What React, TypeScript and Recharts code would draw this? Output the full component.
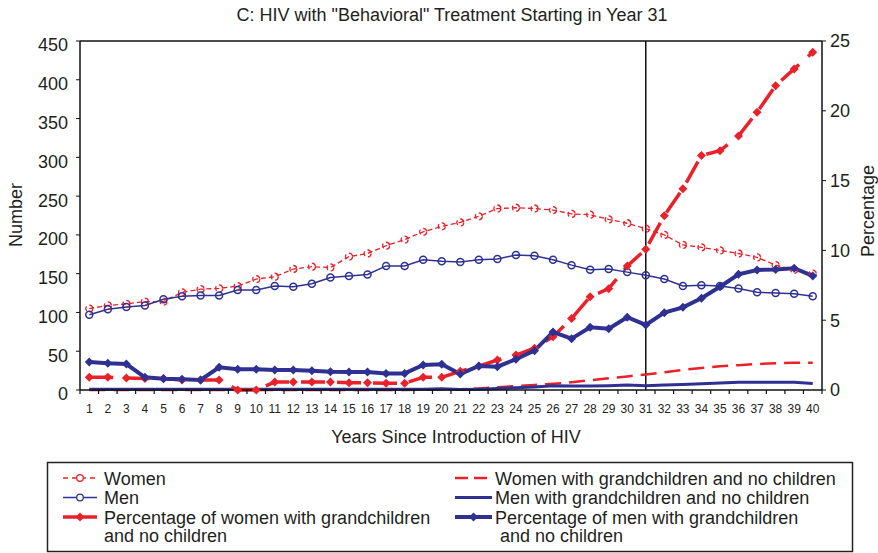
import React from 'react';
import { LineChart, Line, XAxis, YAxis, ReferenceLine } from 'recharts';

const years = [
  1, 2, 3, 4, 5, 6, 7, 8, 9, 10, 11, 12, 13, 14, 15, 16, 17, 18, 19, 20,
  21, 22, 23, 24, 25, 26, 27, 28, 29, 30, 31, 32, 33, 34, 35, 36, 37, 38, 39, 40,
];

// numbers (left axis)
const women = [
  105, 109, 111, 114, 114, 126, 130, 131, 134, 143, 146, 156, 159, 158, 172, 176, 186, 194, 204, 211,
  216, 224, 234, 235, 234, 232, 227, 226, 220, 215, 208, 200, 187, 184, 180, 176, 171, 161, 155, 150,
];
const men = [
  97, 104, 107, 109, 117, 121, 122, 122, 129, 129, 134, 133, 137, 145, 147, 149, 160, 160, 168, 166,
  165, 168, 169, 174, 173, 168, 161, 155, 156, 152, 148, 143, 134, 135, 134, 131, 126, 125, 124, 121,
];
const womenGrand = [
  0, 0, 0, 0, 0, 0, 0, 0, 0, 0, 0, 0, 0, 0, 0, 0, 0, 0, 0.5, 0.5,
  1, 2, 3.5, 5, 6.5, 8, 10, 12.5, 15, 17.5, 20, 23, 26, 28.5, 30.5, 32, 33.5, 34.5, 35, 35,
];
const menGrand = [
  1, 1, 1, 1, 1, 1, 1, 1, 1, 1, 1, 1, 1, 1, 1, 1, 1, 1, 1, 1.5,
  0.5, 1, 2, 3, 4, 5.5, 5, 5, 5.5, 6.5, 5.5, 6.5, 7, 8, 9, 10, 10, 10, 10, 8.5,
];

// percentages (right axis)
const pctWomen = [
  0.91, 0.91, 0.86, 0.82, 0.83, 0.72, 0.72, 0.72, 0, 0, 0.57, 0.57, 0.57, 0.57, 0.52, 0.52, 0.48, 0.48, 0.91, 0.91,
  1.34, 1.7, 2.15, 2.5, 2.99, 3.82, 5.13, 6.68, 7.26, 8.88, 10.08, 12.49, 14.42, 16.8, 17.14, 18.2, 19.9, 21.8, 23.0, 24.2,
];
const pctMen = [
  2.0, 1.91, 1.86, 0.91, 0.81, 0.77, 0.72, 1.63, 1.48, 1.48, 1.43, 1.43, 1.38, 1.31, 1.29, 1.29, 1.19, 1.19, 1.79, 1.84,
  1.15, 1.72, 1.67, 2.2, 2.82, 4.15, 3.68, 4.49, 4.39, 5.21, 4.66, 5.54, 5.92, 6.57, 7.4, 8.29, 8.6, 8.64, 8.72, 8.17,
];

const numberTicks = [0, 50, 100, 150, 200, 250, 300, 350, 400, 450];
const pctTicks = [0, 5, 10, 15, 20, 25];
const treatmentYear = 31;

const RED = '#e8212a';
const BLUE = '#2e3192';
const INK = '#231f20';
const FONT = '"Liberation Sans", Arial, Helvetica, sans-serif';

const W = 878;
const H = 553;
const PLOT_LEFT = 80;
const PLOT_RIGHT = 822;
const PLOT_TOP = 41;
const PLOT_BOTTOM = 390;
const STEP = (PLOT_RIGHT - PLOT_LEFT) / years.length;

const data = years.map((year, i) => ({
  year,
  women: women[i],
  men: men[i],
  womenGrand: womenGrand[i],
  menGrand: menGrand[i],
  pctWomen: pctWomen[i],
  pctMen: pctMen[i],
}));

function diamondPath(cx: number, cy: number, s: number) {
  return `M${cx},${cy - s}L${cx + s},${cy}L${cx},${cy + s}L${cx - s},${cy}Z`;
}

function makeDiamond(color: string) {
  return (props: any) => {
    const { cx, cy, index } = props;
    if (cx == null || cy == null) return <g key={`e-${color}-${index}`} />;
    return <path key={`d-${color}-${index}`} d={diamondPath(cx, cy, 4.5)} fill={color} />;
  };
}

function YearTick({ x, payload }: any) {
  const last = payload.value === years[years.length - 1];
  return (
    <g>
      <line x1={x - STEP / 2} x2={x - STEP / 2} y1={PLOT_BOTTOM} y2={PLOT_BOTTOM + 4} stroke="#111" strokeWidth={1.2} />
      {last && (
        <line x1={x + STEP / 2} x2={x + STEP / 2} y1={PLOT_BOTTOM} y2={PLOT_BOTTOM + 4} stroke="#111" strokeWidth={1.2} />
      )}
      <text x={x} y={PLOT_BOTTOM + 23} textAnchor="middle" fontSize={12} fill={INK} fontFamily={FONT}>
        {payload.value}
      </text>
    </g>
  );
}

function LeftTick({ x, y, payload }: any) {
  return (
    <text x={x} y={y + 4} dy="0.355em" textAnchor="end" fontSize={18} fill={INK} fontFamily={FONT}>
      {payload.value}
    </text>
  );
}

function RightTick({ x, y, payload }: any) {
  return (
    <text x={x} y={y} dy="0.355em" textAnchor="start" fontSize={18} fill={INK} fontFamily={FONT}>
      {payload.value}
    </text>
  );
}

type Entry = {
  label: string[];
  color: string;
  width: number;
  dash?: string;
  marker?: 'circle' | 'diamond';
};

const legendLeft: Entry[] = [
  { label: ['Women'], color: RED, width: 1.3, dash: '5 4', marker: 'circle' },
  { label: ['Men'], color: BLUE, width: 1.5, marker: 'circle' },
  { label: ['Percentage of women with grandchildren', 'and no children'], color: RED, width: 3.5, marker: 'diamond' },
];
const legendRight: Entry[] = [
  { label: ['Women with grandchildren and no children'], color: RED, width: 2.5, dash: '13 6' },
  { label: ['Men with grandchildren and no children'], color: BLUE, width: 3 },
  { label: ['Percentage of men with grandchildren', ' and no children'], color: BLUE, width: 4, marker: 'diamond' },
];

function LegendColumn({ entries, x0, x1, tx }: { entries: Entry[]; x0: number; x1: number; tx: number }) {
  const rows = [478, 497.5, 517];
  const mid = (x0 + x1) / 2;
  return (
    <g>
      {entries.map((e, i) => (
        <g key={i}>
          <line x1={x0} x2={x1} y1={rows[i]} y2={rows[i]} stroke={e.color} strokeWidth={e.width} strokeDasharray={e.dash} />
          {e.marker === 'circle' && <circle cx={mid} cy={rows[i]} r={3.3} fill="white" stroke={e.color} strokeWidth={1.3} />}
          {e.marker === 'diamond' && <path d={diamondPath(mid, rows[i], 4.5)} fill={e.color} />}
          {e.label.map((t, j) => (
            <text key={j} x={tx} y={rows[i] + 6.5 + j * 18.5} fontSize={18} fill={INK} fontFamily={FONT} style={{ whiteSpace: 'pre' }}>
              {t}
            </text>
          ))}
        </g>
      ))}
    </g>
  );
}

export default function App() {
  return (
    <div style={{ position: 'absolute', left: 0, top: 0, width: W, height: H, background: '#fff' }}>
      <LineChart width={W} height={H} data={data} margin={{ top: PLOT_TOP, right: 0, bottom: 0, left: 0 }}>
        <XAxis
          dataKey="year"
          type="number"
          domain={[0.5, 40.5]}
          ticks={years}
          interval={0}
          height={H - PLOT_BOTTOM}
          tick={<YearTick />}
          tickLine={false}
          axisLine={{ stroke: '#111', strokeWidth: 1.5 }}
        />
        <YAxis
          yAxisId="num"
          domain={[0, 450]}
          ticks={numberTicks}
          width={PLOT_LEFT}
          tickSize={4}
          tickMargin={8}
          tick={<LeftTick />}
          tickLine={{ stroke: '#111' }}
          axisLine={{ stroke: '#111', strokeWidth: 1.5 }}
        />
        <YAxis
          yAxisId="pct"
          orientation="right"
          domain={[0, 25]}
          ticks={pctTicks}
          width={W - PLOT_RIGHT}
          tickSize={4}
          tickMargin={4}
          tick={<RightTick />}
          tickLine={{ stroke: '#111' }}
          axisLine={{ stroke: '#111', strokeWidth: 1.5 }}
        />
        <ReferenceLine yAxisId="num" y={450} stroke="#111" strokeWidth={1.5} />
        <ReferenceLine yAxisId="num" x={treatmentYear} stroke="#111" strokeWidth={1.5} />

        <Line
          yAxisId="num"
          dataKey="women"
          name="Women"
          stroke={RED}
          strokeWidth={1.3}
          strokeDasharray="5 3"
          dot={{ r: 3.5, stroke: RED, strokeWidth: 1.3, fill: 'none' }}
          isAnimationActive={false}
        />
        <Line
          yAxisId="num"
          dataKey="men"
          name="Men"
          stroke={BLUE}
          strokeWidth={1.5}
          dot={{ r: 3.5, stroke: BLUE, strokeWidth: 1.5, fill: 'none' }}
          isAnimationActive={false}
        />
        <Line
          yAxisId="num"
          dataKey="womenGrand"
          name="Women with grandchildren and no children"
          stroke={RED}
          strokeWidth={2.5}
          strokeDasharray="16 8"
          dot={false}
          isAnimationActive={false}
        />
        <Line
          yAxisId="num"
          dataKey="menGrand"
          name="Men with grandchildren and no children"
          stroke={BLUE}
          strokeWidth={3}
          dot={false}
          isAnimationActive={false}
        />
        <Line
          yAxisId="pct"
          dataKey="pctWomen"
          name="Percentage of women with grandchildren and no children"
          stroke={RED}
          strokeWidth={3.5}
          strokeDasharray="24 12"
          dot={makeDiamond(RED)}
          isAnimationActive={false}
        />
        <Line
          yAxisId="pct"
          dataKey="pctMen"
          name="Percentage of men with grandchildren and no children"
          stroke={BLUE}
          strokeWidth={4}
          dot={makeDiamond(BLUE)}
          isAnimationActive={false}
        />
      </LineChart>

      <svg width={W} height={H} style={{ position: 'absolute', left: 0, top: 0, pointerEvents: 'none' }}>
        <text x={452} y={21} textAnchor="middle" fontSize={18} fill={INK} fontFamily={FONT}>
          C: HIV with "Behavioral" Treatment Starting in Year 31
        </text>
        <text x={456} y={443} textAnchor="middle" fontSize={18} fill={INK} fontFamily={FONT}>
          Years Since Introduction of HIV
        </text>
        <text transform="translate(22,215) rotate(-90)" textAnchor="middle" fontSize={18} fill={INK} fontFamily={FONT}>
          Number
        </text>
        <text transform="translate(874,211) rotate(-90)" textAnchor="middle" fontSize={18} fill={INK} fontFamily={FONT}>
          Percentage
        </text>
        <rect x={47.5} y={462.5} width={805} height={89} fill="none" stroke="#222" strokeWidth={1.5} />
        <LegendColumn entries={legendLeft} x0={63} x1={97} tx={104} />
        <LegendColumn entries={legendRight} x0={455} x1={492} tx={495} />
      </svg>
    </div>
  );
}
